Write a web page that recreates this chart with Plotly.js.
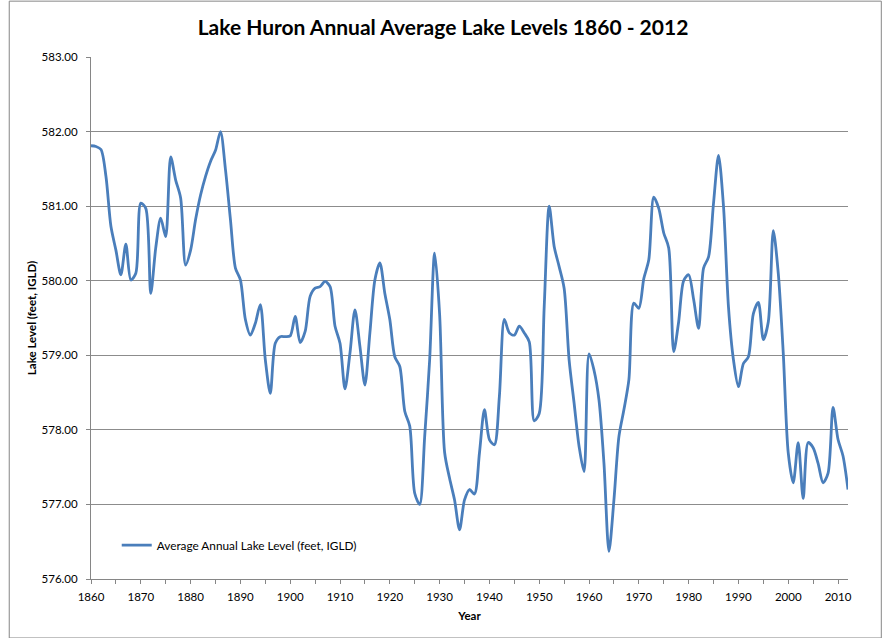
<!DOCTYPE html>
<html>
<head>
<meta charset="utf-8">
<script src="https://cdn.plot.ly/plotly-3.0.1.min.js"></script>
<style>
html,body{margin:0;padding:0;background:#fff;}
#chart{width:886px;height:638px;}
</style>
</head>
<body>
<div id="chart"></div>
<script>
const startYear = 1860;
const endYear = 2012;
const seriesName = "Average Annual Lake Level (feet, IGLD)";
const lakeLevels = [
581.81,581.80,581.76,581.40,580.73,580.41,580.08,580.49,580.01,580.10,
581.04,580.97,579.83,580.44,580.84,580.59,581.66,581.35,581.11,580.21,
580.41,580.82,581.15,581.40,581.60,581.75,582.00,581.49,580.82,580.17,
580.01,579.48,579.27,579.43,579.68,578.94,578.49,579.16,579.25,579.25,
579.26,579.52,579.17,579.32,579.79,579.90,579.92,579.99,579.92,579.39,
579.16,578.55,579.03,579.61,579.12,578.60,579.30,580.01,580.24,579.83,
579.48,578.98,578.85,578.25,578.05,577.15,577.00,577.91,578.94,580.37,
579.55,577.70,577.35,577.06,576.66,577.06,577.20,577.14,577.69,578.27,
577.87,577.80,578.45,579.48,579.30,579.27,579.39,579.30,579.18,578.12,
578.22,579.65,581.00,580.46,580.19,579.90,578.94,578.36,577.78,577.44,
579.02,578.80,578.40,577.55,576.37,577.06,577.91,578.27,578.67,579.70,
579.63,580.03,580.28,581.12,580.97,580.64,580.44,579.05,579.45,580.00,
580.08,579.75,579.36,580.17,580.32,581.04,581.68,581.00,579.65,578.94,
578.58,578.89,578.98,579.56,579.71,579.21,579.45,580.67,580.10,579.03,
577.69,577.29,577.83,577.08,577.83,577.76,577.55,577.29,577.42,578.30,
577.87,577.65,577.20
];
const years = lakeLevels.map((_, i) => startYear + i);

const font = "Lato, 'Open Sans', sans-serif";

const trace = {
  x: years,
  y: lakeLevels,
  type: 'scatter',
  mode: 'lines',
  name: seriesName,
  line: {color: '#4A7EBB', width: 2.8, shape: 'spline', smoothing: 0.8},
  showlegend: true
};

const layout = {
  width: 886,
  height: 638,
  margin: {l: 91, r: 38, t: 57, b: 59},
  paper_bgcolor: '#ffffff',
  plot_bgcolor: '#ffffff',
  font: {family: font, size: 12, color: '#000'},
  title: {
    text: '<b>Lake Huron Annual Average Lake Levels 1860 - 2012</b>',
    font: {family: font, size: 21, color: '#000'},
    x: 0.5, xanchor: 'center', y: 0.957, yanchor: 'middle'
  },
  xaxis: {
    range: [startYear, endYear],
    tick0: 1860, dtick: 10,
    ticks: 'outside', ticklen: 4, tickcolor: '#868686', tickwidth: 1,
    ticklabelstandoff: 3,
    minor: {dtick: 5, ticks: 'outside', ticklen: 4, tickcolor: '#868686', showgrid: false},
    showline: true, linecolor: '#868686', linewidth: 1,
    showgrid: false, zeroline: false,
    tickfont: {family: font, size: 11.5, color: '#000'},
    title: {text: '<b>Year</b>', font: {family: font, size: 11.5, color: '#000'}, standoff: 10}
  },
  yaxis: {
    range: [576, 583],
    dtick: 1, tickformat: '.2f',
    ticks: 'outside', ticklen: 4, tickcolor: '#868686',
    ticklabelstandoff: 6,
    showline: true, linecolor: '#868686', linewidth: 1,
    showgrid: true, gridcolor: '#8c8c8c', gridwidth: 1,
    zeroline: false,
    tickfont: {family: font, size: 11.5, color: '#000'},
    title: {text: '<b>Lake Level (feet, IGLD)</b>', font: {family: font, size: 11.5, color: '#000'}, standoff: 2}
  },
  legend: {
    x: 0.034, y: 0.065, xanchor: 'left', yanchor: 'middle',
    bgcolor: 'rgba(0,0,0,0)', borderwidth: 0,
    font: {family: font, size: 11.8, color: '#000'}
  },
  shapes: [{
    type: 'rect', xref: 'paper', yref: 'paper',
    x0: -0.108, x1: 1.044, y0: -0.113, y1: 1.107,
    line: {color: '#868686', width: 1}
  }]
};

Plotly.newPlot('chart', [trace], layout, {displayModeBar: false, staticPlot: true});
</script>
</body>
</html>
